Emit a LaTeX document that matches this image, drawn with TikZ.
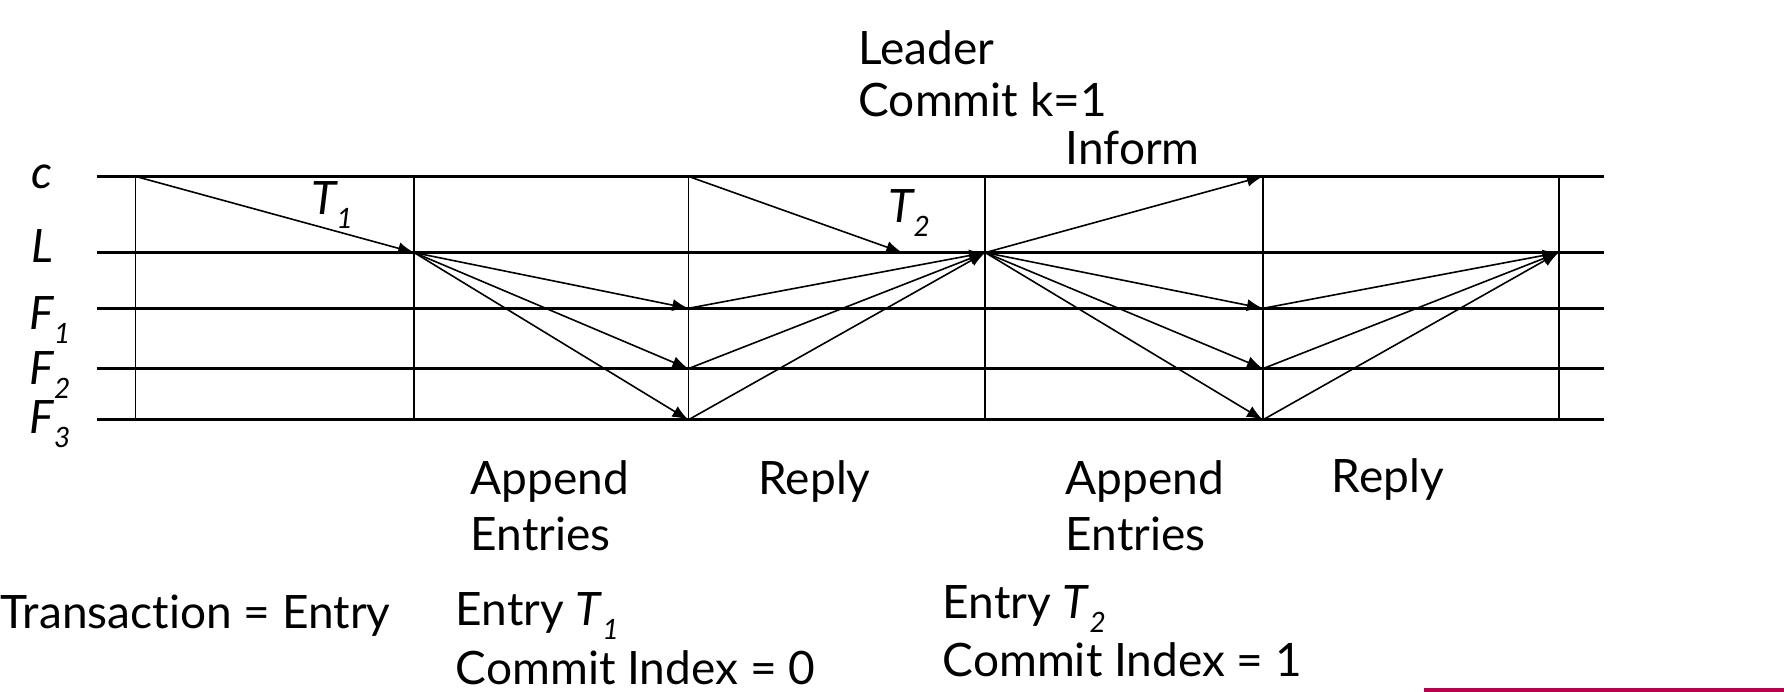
\documentclass[tikz,border=0pt]{standalone}
\usepackage{fontspec}
\setmainfont{Lato}[Ligatures=NoCommon]
\newcommand{\lbl}[2]{\textit{#1}\raisebox{-0.6ex}{\scriptsize\textit{#2}}}
\tikzset{
  msg/.style={-latex, thin},
  txt/.style={anchor=west, inner sep=0pt, font=\fontsize{11.5}{13}\selectfont},
  proc/.style={inner sep=0pt, font=\fontsize{11.5}{13}\selectfont\itshape}
}
\begin{document}
\begin{tikzpicture}[x=0.01cm, y=-0.01cm]
    \useasboundingbox (0,0) rectangle (1568,608);

    % Zeitlinien
    \foreach \n/\y in {c/155, L/222, Fa/271, Fb/324, Fc/369} {
        \draw[thick] (85,\y) -- (1410,\y);
        \foreach \i/\x in {0/119, 1/364, 2/605, 3/866, 4/1110, 5/1370}
            \coordinate (\n\i) at (\x,\y);
    }
    \foreach \i in {0,...,5}
        \draw (c\i) -- (Fc\i);

    % Prozesse
    \node[proc] (pc) at (37,155) {c};
    \node[proc] (pL) at (37,216) {L};
    \node[proc] (pF1) at (44,281) {\lbl{F}{1}};
    \node[proc] (pF2) at (44,330) {\lbl{F}{2}};
    \node[proc] (pF3) at (44,373) {\lbl{F}{3}};

    % Nachrichten
    \coordinate (T2end) at (793,222);
    \draw[msg] (c0) -- (L1);
    \draw[msg] (c2) -- (T2end);
    \draw[msg] (L3) -- (c4);
    \foreach \f in {Fa,Fb,Fc} {
        \draw[msg] (L1) -- (\f2);
        \draw[msg] (\f2) -- (L3);
        \draw[msg] (L3) -- (\f4);
        \draw[msg] (\f4) -- (L5);
    }
    \node[proc] (T1) at (292,180) {\lbl{T}{1}};
    \node[proc] (T2) at (799,187) {\lbl{T}{2}};

    % Beschriftungen
    \node[txt] (lead) at (754,42) {Leader};
    \node[txt] (comm) at (754,88) {Commit k=1};
    \node[txt] (inf) at (936,130) {Inform};
    \node[txt] (app1) at (413,423) {Append};
    \node[txt] (ent1) at (413,469) {Entries};
    \node[txt] (rep1) at (666,423) {Reply};
    \node[txt] (app2) at (936,423) {Append};
    \node[txt] (ent2) at (936,469) {Entries};
    \node[txt] (rep2) at (1170,421) {Reply};
    \node[txt] (tx) at (0,541) {Transaction = Entry};
    \node[txt] (e1) at (400,541) {Entry \lbl{T}{1}};
    \node[txt] (ci1) at (400,587) {Commit Index = 0};
    \node[txt] (e2) at (828,535) {Entry \lbl{T}{2}};
    \node[txt] (ci2) at (828,580) {Commit Index = 1};

    \draw[line width=1.5pt, red!60!black!70!magenta] (1252,607) -- (1568,607);
\end{tikzpicture}
\end{document}
